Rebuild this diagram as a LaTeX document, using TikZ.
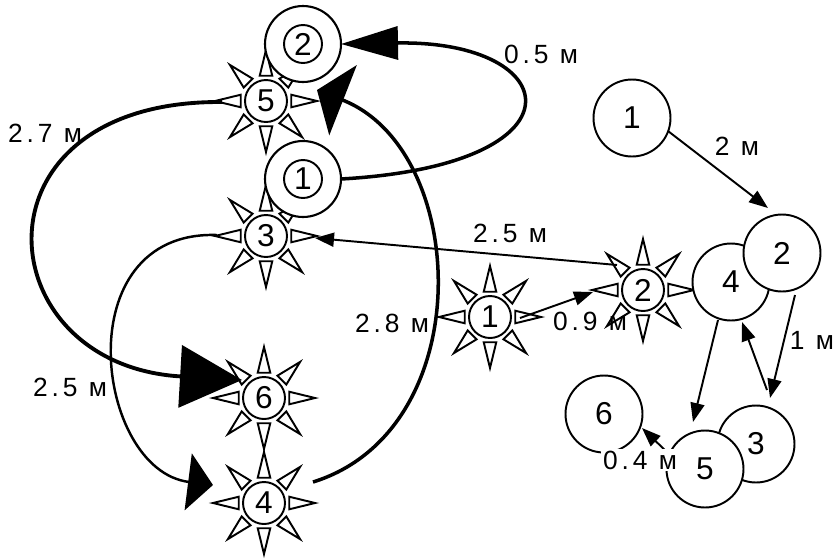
\documentclass[tikz,border=0pt]{standalone}
\usepackage{fontspec}
\setmainfont{Liberation Sans}
\newfontfamily\lblfont[LetterSpace=15]{Liberation Sans}
\usetikzlibrary{arrows.meta}

\begin{document}
\begin{tikzpicture}[
        x=0.02cm, y=-0.02cm,
        every node/.style={align=center, outer sep=0pt},
        sun/.style={circle, draw, fill=white, line width=1.1pt,
                    minimum size=0.84cm, inner sep=0pt,
                    font=\fontsize{18}{18}\selectfont},
        ray/.style={draw, fill=white, line width=1.1pt, line join=miter},
        ring/.style={circle, draw, fill=white, line width=1.2pt,
                     minimum size=1.52cm, inner sep=0pt},
        ringnum/.style={circle, draw, line width=1.1pt,
                        minimum size=0.76cm, inner sep=0pt,
                        font=\fontsize{18}{18}\selectfont},
        spot/.style={circle, draw, fill=white, line width=1.1pt,
                     minimum size=1.54cm, inner sep=0pt,
                     font=\fontsize{18}{18}\selectfont},
        dist/.style={font=\lblfont\fontsize{15}{15}\selectfont, inner sep=1pt},
        link/.style={line width=1.1pt, -{Triangle[length=0.38cm, width=0.28cm]}},
        loop/.style={line width=2pt}
    ]
        \useasboundingbox (0,0) rectangle (839,559);

        % --- Sonnen links ---
        \node[sun] (s5) at (266,101) {5};
        \node[sun] (s3) at (266,236) {3};
        \node[sun] (s6) at (264,398) {6};
        \node[sun] (s4) at (264,503) {4};
        % --- Sonnen Mitte ---
        \node[sun] (s1) at (490,317) {1};
        \node[sun] (s2) at (643,290) {2};

        \foreach \s in {s5,s3,s6,s4,s1,s2}{
            \foreach \a in {0,45,...,315}{
                \draw[ray] ([shift={(\a-14:26)}]\s.center)
                    -- ([shift={(\a:51)}]\s.center)
                    -- ([shift={(\a+14:26)}]\s.center) -- cycle;
            }
        }

        % --- Doppelkreise ---
        \node[ring] (d2) at (303,44) {};
        \node[ringnum] (d2n) at (d2) {2};
        \node[ring] (d1) at (303,179) {};
        \node[ringnum] (d1n) at (d1) {1};

        % --- Kreise rechts ---
        \node[spot] (c1) at (632,118) {1};
        \node[spot] (c4) at (731,282) {4};
        \node[spot] (c2) at (782,253) {2};
        \node[spot] (c6) at (604,414) {6};
        \node[spot] (c3) at (756,444) {3};
        \node[spot] (c5) at (705,469) {5};

        % --- Boegen links ---
        \draw[loop, -{Triangle[length=1.14cm, width=0.66cm]}]
            (d1.east) .. controls (590,165) and (565,40) .. (d2.east);
        \draw[loop, line width=2.2pt, -{Triangle[length=1.24cm, width=1.24cm]}]
            ([shift={(-44,1)}]s5.center) .. controls (-35,100) and (-15,365)
            .. ([shift={(-22,-18)}]s6.center);
        \draw[line width=1.4pt, -{Triangle[length=0.5cm, width=1.14cm]}]
            ([shift={(-49,-1)}]s3.center) .. controls (65,230) and (95,470)
            .. ([shift={(-51,-18)}]s4.center);
        \draw[loop, -{Triangle[length=0.56cm, width=1.5cm]}]
            ([shift={(49,-21)}]s4.center) .. controls (480,430) and (470,150)
            .. ([shift={(51,-11)}]s5.center);

        % --- Geraden ---
        \draw[link] ([shift={(-26,-25)}]s2.center) -- ([shift={(49,2)}]s3.center);
        \draw[link] ([shift={(30,1)}]s1.center) -- ([shift={(-50,2)}]s2.center);
        \draw[link] (c1.-20) -- ([shift={(-14,-45)}]c2.center);
        \draw[link] ([shift={(-13,38)}]c4.center) -- ([shift={(-12,-47)}]c5.center);
        \draw[link] ([shift={(13,42)}]c2.center) -- ([shift={(14,-46)}]c3.center);
        \draw[link] ([shift={(11,-54)}]c3.center) -- ([shift={(11,40)}]c4.center);
        \draw[link] ([shift={(-37,-16)}]c5.center) -- ([shift={(38,14)}]c6.center);

        % --- Entfernungen ---
        \node[dist] (l05) at (541,54) {0.5 м};
        \node[dist] (l27) at (45,133) {2.7 м};
        \node[dist] (l25a) at (70,387) {2.5 м};
        \node[dist] (l28) at (392,323) {2.8 м};
        \node[dist] (l25b) at (510,233) {2.5 м};
        \node[dist] (l09) at (590,321) {0.9 м};
        \node[dist] (l2) at (737,146) {2 м};
        \node[dist] (l1) at (812,340) {1 м};
        \node[dist, fill=white] (l04) at (640,460) {0.4 м};
    \end{tikzpicture}
\end{document}
